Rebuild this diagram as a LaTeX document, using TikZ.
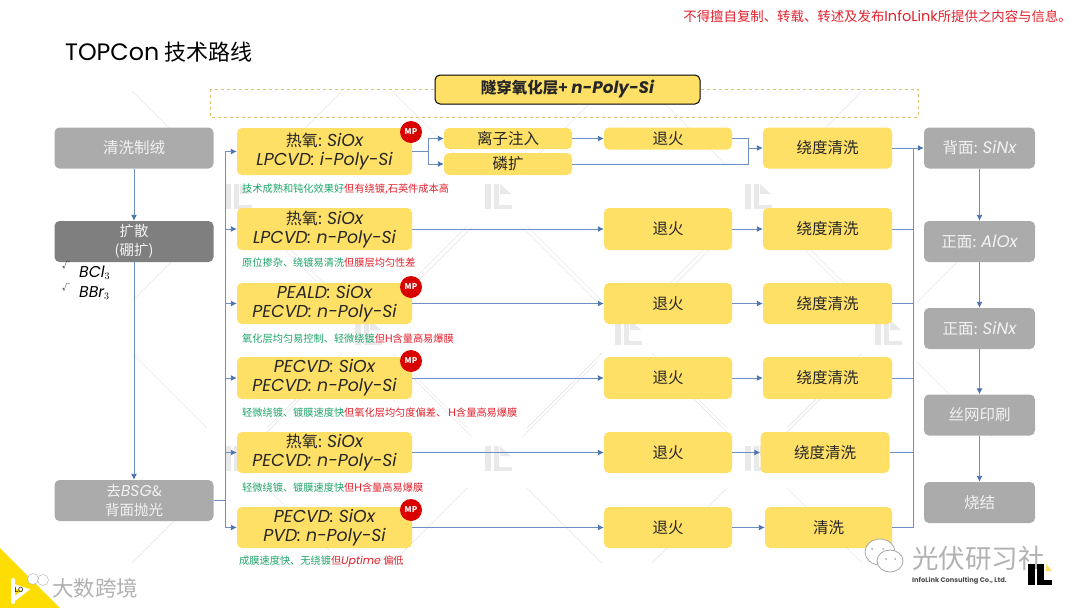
\documentclass[tikz,border=0pt]{standalone}
\usepackage{fontspec}
\setmainfont{Noto Sans CJK SC}
\newfontfamily\lat[Scale=1.08]{Poppins}
\newcommand{\lt}[1]{{\lat\itshape #1}}
\usetikzlibrary{arrows.meta}
\definecolor{yb}{HTML}{FFE066}
\definecolor{gb}{HTML}{ABABAB}
\definecolor{db}{HTML}{7F7F7F}
\definecolor{ln}{HTML}{6E8FC4}
\definecolor{tip}{HTML}{4A72AE}
\definecolor{gt}{HTML}{1FA56A}
\definecolor{rt}{HTML}{E2222E}
\definecolor{wm}{HTML}{E9E9E9}
\tikzset{
  x=1pt,y=-1pt,
  box/.style={rounded corners=5pt,inner sep=0pt,align=center,font=\fontsize{15.5}{20}\selectfont},
  ybox/.style={box,fill=yb,text=black!85},
  pbox/.style={ybox,minimum width=175pt,font=\fontsize{16}{19}\selectfont},
  abox/.style={ybox,minimum width=128pt},
  cbox/.style={ybox,minimum width=129pt,minimum height=41pt},
  gbox/.style={box,fill=gb,text=white!90!gray},
  lbox/.style={gbox,minimum width=159pt,minimum height=41pt},
  rbox/.style={gbox,minimum width=111pt,minimum height=41pt},
  mpc/.style={circle,fill=red!85!black,text=white,inner sep=0pt,minimum size=22pt,font=\fontsize{8}{8}\selectfont\bfseries},
  note/.style={anchor=west,inner sep=0pt,font=\fontsize{10.2}{11}\selectfont},
  con/.style={draw=ln,line width=0.9pt},
  arr/.style={con,-{Latex[length=6pt,width=6pt,color=tip]}},
  wml/.style={draw=wm,line width=0.7pt}
}
\begin{document}
\begin{tikzpicture}
\useasboundingbox (0,0) rectangle (1080,608);
\fill[white] (0,0) rectangle (1080,608);
% watermark
\foreach \cx/\cy in {237/196,497/196,757/196,367/332,627/332,887/332,237/458,497/458,757/458}{
  \draw[wml] (\cx-30,\cy-30) -- (\cx-105,\cy-105);
  \draw[wml] (\cx+30,\cy-30) -- (\cx+105,\cy-105);
  \draw[wml] (\cx-30,\cy+30) -- (\cx-105,\cy+105);
  \draw[wml] (\cx+30,\cy+30) -- (\cx+105,\cy+105);
  \fill[wm] (\cx-12,\cy-12) rectangle +(6,25);
  \fill[wm] (\cx-3,\cy-12) rectangle +(5,25);
  \fill[wm] (\cx-3,\cy+9) rectangle +(18,4);
  \fill[wm] (\cx+3,\cy-12) -- (\cx+14,\cy-2) -- (\cx+3,\cy-2) -- cycle;
}
% corner
\fill[yellow!80!orange] (0,548) -- (60,608) -- (0,608) -- cycle;
% title
\node[anchor=west,inner sep=0pt,font=\fontsize{22}{24}\selectfont] (title) at (65,52) {{\lat TOPCon} 技术路线};
\node[anchor=east,inner sep=0pt,text=rt,font=\fontsize{13.4}{14}\selectfont] (copy) at (1072,16) {不得擅自复制、转载、转述及发布{\lat InfoLink}所提供之内容与信息。};
% header
\draw[draw=yb!70!gray,dashed,line width=0.7pt] (210,89) rectangle (918,117);
\node[ybox,draw=black,line width=1pt,minimum width=265pt,minimum height=29pt,font=\fontsize{15.5}{18}\selectfont\bfseries] (head) at (567.5,89.5) {隧穿氧化层+ \lt{n-Poly-Si}};
% left
\node[lbox] (L1) at (134,148) {清洗制绒};
\node[lbox,fill=db,font=\fontsize{14.5}{19}\selectfont] (L2) at (134,241.5) {扩散\\(硼扩)};
\node[lbox,font=\fontsize{14.5}{19}\selectfont] (L3) at (134,500.5) {去\lt{BSG}\&\\背面抛光};
\node[anchor=west,inner sep=0pt,font=\fontsize{14.5}{20}\selectfont] (bcl) at (79,273) {\lt{BCl$_3$}};
\node[anchor=west,inner sep=0pt,font=\fontsize{14.5}{20}\selectfont] (bbr) at (79,293) {\lt{BBr$_3$}};
\node[inner sep=0pt,font=\fontsize{8}{8}\selectfont] (ck1) at (66,265) {√};
\node[inner sep=0pt,font=\fontsize{8}{8}\selectfont] (ck2) at (66,287) {√};
% process
\node[pbox,minimum height=47pt] (P1) at (324.5,151.5) {热氧: \lt{SiOx}\\\lt{LPCVD: i-Poly-Si}};
\node[pbox,minimum height=42pt] (P2) at (324.5,229) {热氧: \lt{SiOx}\\\lt{LPCVD: n-Poly-Si}};
\node[pbox,minimum height=41pt] (P3) at (324.5,303.5) {\lt{PEALD: SiOx}\\\lt{PECVD: n-Poly-Si}};
\node[pbox,minimum height=42pt] (P4) at (324.5,378) {\lt{PECVD: SiOx}\\\lt{PECVD: n-Poly-Si}};
\node[pbox,minimum height=41pt] (P5) at (324.5,452.5) {热氧: \lt{SiOx}\\\lt{PECVD: n-Poly-Si}};
\node[pbox,minimum height=41pt] (P6) at (324.5,527.5) {\lt{PECVD: SiOx}\\\lt{PVD: n-Poly-Si}};
\node[mpc] (M1) at (411,132) {MP};
\node[mpc] (M3) at (411,287) {MP};
\node[mpc] (M4) at (411,361) {MP};
\node[mpc] (M6) at (411,510) {MP};
% notes
\node[note] (N1) at (242,189) {\textcolor{gt}{技术成熟和钝化效果好}\textcolor{rt}{但有绕镀,石英件成本高}};
\node[note] (N2) at (242,263) {\textcolor{gt}{原位掺杂、绕镀易清洗}\textcolor{rt}{但膜层均匀性差}};
\node[note] (N3) at (242,339) {\textcolor{gt}{氧化层均匀易控制、轻微绕镀}\textcolor{rt}{但{\lat H}含量高易爆膜}};
\node[note] (N4) at (242,413) {\textcolor{gt}{轻微绕镀、镀膜速度快}\textcolor{rt}{但氧化层均匀度偏差、 {\lat H}含量高易爆膜}};
\node[note] (N5) at (242,488) {\textcolor{gt}{轻微绕镀、镀膜速度快}\textcolor{rt}{但{\lat H}含量高易爆膜}};
\node[note] (N6) at (239,562) {\textcolor{gt}{成膜速度快、无绕镀}\textcolor{rt}{但\lt{Uptime} 偏低}};
% first row
\node[abox,minimum height=21pt] (ion) at (508,138.5) {离子注入};
\node[abox,minimum height=22pt] (pho) at (508,164) {磷扩};
\node[abox,minimum height=22pt] (A1) at (668,138.5) {退火};
\node[cbox] (C1) at (827.5,148) {绕度清洗};
% other rows
\node[abox,minimum height=42pt] (A2) at (668,229) {退火};
\node[abox,minimum height=41pt] (A3) at (668,303.5) {退火};
\node[abox,minimum height=42pt] (A4) at (668,378) {退火};
\node[abox,minimum height=41pt] (A5) at (668,452.5) {退火};
\node[abox,minimum height=41pt] (A6) at (668,527.5) {退火};
\node[cbox,minimum height=42pt] (C2) at (827.5,229) {绕度清洗};
\node[cbox] (C3) at (827.5,303.5) {绕度清洗};
\node[cbox,minimum height=42pt] (C4) at (827.5,378) {绕度清洗};
\node[cbox] (C5) at (825,452.5) {绕度清洗};
\node[cbox,minimum width=127pt] (C6) at (828.5,527.5) {清洗};
% right
\node[rbox] (R1) at (979.5,148) {背面: \lt{SiNx}};
\node[rbox] (R2) at (979.5,241.5) {正面: \lt{AlOx}};
\node[rbox] (R3) at (979.5,328.5) {正面: \lt{SiNx}};
\node[rbox] (R4) at (979.5,415) {丝网印刷};
\node[rbox] (R5) at (979.5,502.5) {烧结};
% connectors
\draw[arr] (L1) -- (L2);
\draw[arr] (L2) -- (L3);
\coordinate (busL) at (225,500.5);
\coordinate (busR) at (913,148);
\draw[con] (L3.east) -- (busL);
\foreach \i in {1,...,6}{
  \draw[arr] (busL) |- (P\i.west);
}
\coordinate (sp) at (428,151.5);
\draw[con] (P1.east) -- (sp);
\draw[arr] (sp) |- (ion.west);
\draw[arr] (sp) |- (pho.west);
\draw[arr] (ion) -- (A1);
\coordinate (jn) at (748,148);
\draw[con] (A1.east) -| (jn);
\draw[con] (pho.east) -| (jn);
\draw[arr] (jn) -- (C1.west);
\foreach \i in {2,...,6}{
  \draw[arr] (P\i) -- (A\i);
  \draw[arr] (A\i) -- (C\i);
  \draw[con] (C\i.east) -| (busR);
}
\draw[arr] (C1.east) -- (R1.west);
\draw[arr] (R1) -- (R2);
\draw[arr] (R2) -- (R3);
\draw[arr] (R3) -- (R4);
\draw[arr] (R4) -- (R5);
% footer marks
\node[anchor=west,inner sep=0pt,text=gray!60,font=\fontsize{21.5}{24}\selectfont] (dk) at (52,588) {大数跨境};
\draw[white,line width=4pt,line cap=round] (13,580) -- (13,602) (13,600) -- (26,590) -- (14,586);
\draw[gray!60,fill=white] (33,579) circle (5.5pt) (43,580) circle (5.5pt);
\node[inner sep=0pt,font=\fontsize{7}{7}\selectfont\itshape] (lo) at (19,590) {LO};
\draw[gray!70,fill=white,line width=0.8pt] (880,552) ellipse (15pt and 13pt);
\draw[gray!70,fill=white,line width=0.8pt] (890,561) ellipse (13pt and 11pt);
\fill[gray!70] (872,549) circle (1pt) (883,549) circle (1pt) (886,559) circle (1pt) (895,559) circle (1pt);
\node[anchor=west,inner sep=0pt,text=gray!60,font=\fontsize{26.5}{30}\selectfont] (gf) at (912,558) {光伏研习社};
\node[anchor=west,inner sep=0pt,text=black!70,font=\fontsize{6.2}{8}\selectfont\bfseries] (il) at (912,581) {{\lat InfoLink Consulting Co., Ltd.}};
\fill[black] (1028,564) rectangle +(7,21);
\fill[black] (1037,564) rectangle +(7,21);
\fill[black] (1037,580) rectangle +(15,5);
\fill[yb] (1046,564) -- (1052,571) -- (1046,571) -- cycle;
\end{tikzpicture}
\end{document}
